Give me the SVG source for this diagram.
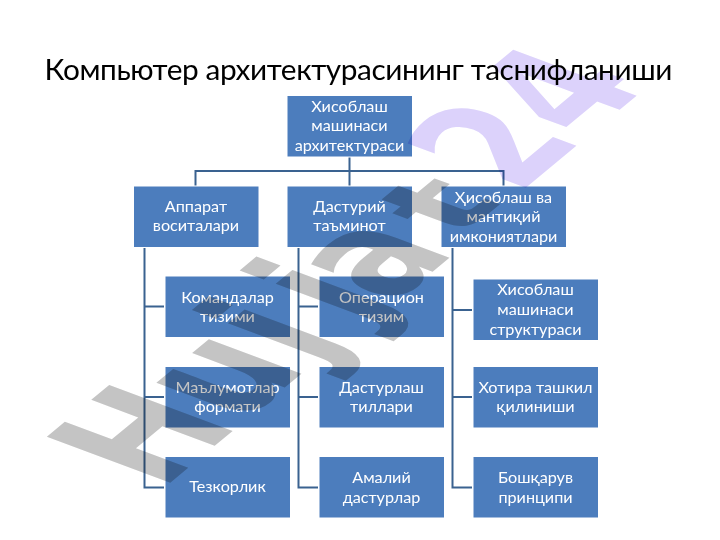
<svg xmlns="http://www.w3.org/2000/svg" width="720" height="540" viewBox="0 0 720 540">
<style>
.b{fill:#4c7dbd;stroke:#fff;stroke-width:1}
.t{font-family:Lato,"Noto Sans",sans-serif;font-size:16.2px;fill:#fff;text-anchor:middle}
.c{fill:none;stroke:#3a6290;stroke-width:2}
.wm{font-family:"DejaVu Sans",sans-serif;font-weight:bold;font-size:180px;mix-blend-mode:multiply}
</style>
<rect width="720" height="540" fill="#fff"/>
<text x="358.500" y="80" text-anchor="middle" font-family="Lato,'Noto Sans',sans-serif" font-size="29.800" textLength="628" fill="#000">Компьютер архитектурасининг таснифланиши</text>
<g id="connectors">
<path class="c" d="M349.500 157V186M195.500 186V171H503.500V186"/>
<path class="c" d="M144.500 248V487.500H164M144.500 306.500H164M144.500 397H164"/>
<path class="c" d="M298.500 248V487.500H318M298.500 306.500H318M298.500 397H318"/>
<path class="c" d="M452.500 248V487.500H472M452.500 310H472M452.500 397H472"/>
</g>
<g id="root"><rect class="b" x="287" y="95.500" width="125.500" height="61.500"/><text class="t" x="349.500" y="112">Хисоблаш</text><text class="t" x="349.500" y="131">машинаси</text><text class="t" x="349.500" y="151">архитектураси</text></g>
<g id="n1"><rect class="b" x="133.500" y="186" width="125.500" height="61.500"/><text class="t" x="196" y="212">Аппарат</text><text class="t" x="196" y="231">воситалари</text></g>
<g id="n2"><rect class="b" x="287" y="186" width="125.500" height="61.500"/><text class="t" x="349.500" y="212">Дастурий</text><text class="t" x="349.500" y="231">таъминот</text></g>
<g id="n3"><rect class="b" x="441" y="186" width="125.500" height="61.500"/><text class="t" x="503.500" y="203">Ҳисоблаш ва</text><text class="t" x="503.500" y="222">мантиқий</text><text class="t" x="503.500" y="242">имкониятлари</text></g>
<g id="n11"><rect class="b" x="165" y="276" width="125.500" height="61.500"/><text class="t" x="227.500" y="303">Командалар</text><text class="t" x="227.500" y="322">тизими</text></g>
<g id="n12"><rect class="b" x="165" y="366.500" width="125.500" height="61.500"/><text class="t" x="227.500" y="393">Маълумотлар</text><text class="t" x="227.500" y="412">формати</text></g>
<g id="n13"><rect class="b" x="165" y="456.500" width="125.500" height="61.500"/><text class="t" x="227.500" y="492">Тезкорлик</text></g>
<g id="n21"><rect class="b" x="319" y="276" width="125.500" height="61.500"/><text class="t" x="381.500" y="303">Операцион</text><text class="t" x="381.500" y="322">тизим</text></g>
<g id="n22"><rect class="b" x="319" y="366.500" width="125.500" height="61.500"/><text class="t" x="381.500" y="393">Дастурлаш</text><text class="t" x="381.500" y="412">тиллари</text></g>
<g id="n23"><rect class="b" x="319" y="456.500" width="125.500" height="61.500"/><text class="t" x="381.500" y="483">Амалий</text><text class="t" x="381.500" y="503">дастурлар</text></g>
<g id="n31"><rect class="b" x="473" y="279" width="125.500" height="61.500"/><text class="t" x="535.500" y="295">Хисоблаш</text><text class="t" x="535.500" y="315">машинаси</text><text class="t" x="535.500" y="335">структураси</text></g>
<g id="n32"><rect class="b" x="473" y="366.500" width="125.500" height="61.500"/><text class="t" x="535.500" y="393">Хотира ташкил</text><text class="t" x="535.500" y="412">қилиниши</text></g>
<g id="n33"><rect class="b" x="473" y="456.500" width="125.500" height="61.500"/><text class="t" x="535.500" y="483">Бошқарув</text><text class="t" x="535.500" y="503">принципи</text></g>
<g id="watermark">
<text class="wm" transform="matrix(0.53 -0.44 0.94 0.35 161.500 490)" x="0 151 285 375 425" y="0 0 0 0 6" fill="#c4c4c4">Hujja</text>
<text class="wm" transform="matrix(0.53 -0.44 0.68 0.25 458 239)" fill="#c4c4c4">t</text>
<text class="wm" transform="matrix(0.53 -0.44 0.94 0.35 161.500 490)" x="673 798" y="0" fill="#dcd2fb">24</text>
</g>
</svg>
